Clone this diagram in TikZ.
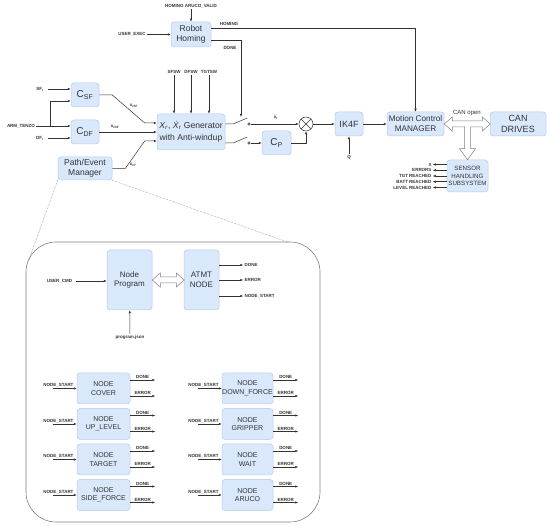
\documentclass[tikz,border=0pt]{standalone}
\usepackage{fontspec}
\setmainfont{Liberation Sans}
\usetikzlibrary{arrows.meta}

\definecolor{boxfill}{HTML}{DAE8FC}
\definecolor{boxline}{HTML}{B4CBEA}
\definecolor{ink}{HTML}{333333}

\begin{document}
\begin{tikzpicture}[x=1pt,y=-1pt,line width=.5pt,
  blk/.style={draw=boxline,fill=boxfill,rounded corners=3pt,text=ink,align=center,inner sep=0pt,font=\fontsize{8.5}{10}\selectfont},
  nd/.style={blk,minimum height=31,font=\fontsize{7}{8.5}\selectfont},
  lbl/.style={text=ink,inner sep=1pt,font=\fontsize{4.5}{5}\selectfont\bfseries},
  sig/.style={draw=ink,-{Latex[length=3pt,width=2.4pt]}},
  hollow/.style={draw=gray,fill=white,line width=.5pt}]
\path[use as bounding box] (0,0) rectangle (550,526);
\node[blk,minimum width=40,minimum height=25] (homing) at (191,34.5) {Robot\\Homing};
\node[lbl] (hav) at (191,6) {HOMING ARUCO\_VALID};
\draw[sig] (hav) -- (homing);
\node[lbl] (uexec) at (132,34.5) {USER\_EXEC};
\draw[sig] (uexec) -- (homing);
\node[blk,minimum width=28,minimum height=24,font=\fontsize{10}{11}\selectfont] (csf) at (85,95) {C\textsubscript{SF}};
\node[blk,minimum width=28,minimum height=24,font=\fontsize{10}{11}\selectfont] (cdf) at (85,132) {C\textsubscript{DF}};
\node[blk,minimum width=54,minimum height=23] (pm) at (85,168.5) {Path/Event\\Manager};
\node[blk,minimum width=68,minimum height=36,font=\fontsize{8.6}{11.5}\selectfont] (gen) at (191,132) {\textit{X}\textsubscript{\textit{r}}, \textit{\.X}\textsubscript{\textit{r}} Generator\\with Anti-windup};
\node[lbl] (sfr) at (40,89) {SF\textsubscript{r}};
\node[lbl] (arm) at (21,126) {ARM\_TENZO};
\node[lbl] (dfr) at (40,138) {DF\textsubscript{r}};
\draw[sig] ([xshift=3pt]sfr.east) -- (sfr -| csf.west);
\draw[sig] (arm.east) -- (arm -| cdf.west);
\coordinate (armsplit) at (50,126);
\draw[sig] (armsplit) |- ([yshift=-6pt]csf.west);
\draw[sig] ([xshift=3pt]dfr.east) -- (dfr -| cdf.west);
\node[lbl] (sfsw) at (174,72) {SFSW};
\node[lbl] (dfsw) at (191,72) {DFSW};
\node[lbl] (tgtsw) at (209,72) {TGTSW};
\draw[sig] (sfsw) -- (sfsw |- gen.north);
\draw[sig] (dfsw) -- (dfsw |- gen.north);
\draw[sig] (tgtsw) -- (tgtsw |- gen.north);
\draw[sig] (csf.east) -- ++(13,0) -- ([xshift=-12pt,yshift=9pt]gen.west) -- ([yshift=9pt]gen.west);
\node[lbl] (lsf) at (134,106) {x\textsubscript{rSF}};
\draw[sig] (cdf) -- (gen);
\node[lbl] (ldf) at (115,127) {x\textsubscript{rDF}};
\draw[sig] (pm.east) -- ++(13,0) -- ([xshift=-12pt,yshift=-9pt]gen.west) -- ([yshift=-9pt]gen.west);
\node[lbl] (lp) at (133,165) {x\textsubscript{rP}};
\node[draw=ink,circle,inner sep=0pt,minimum size=2.5] (sw1) at (249,124) {};
\node[draw=ink,circle,inner sep=0pt,minimum size=2.5] (sw2) at (249,143) {};
\draw[ink] ([yshift=8pt]gen.east) -- ++(8,0) -- ++(14,-6);
\draw[ink] ([yshift=-11pt]gen.east) -- ++(8,0) -- ++(14,-6);
\coordinate (doneend) at (241,117);
\draw[sig] ([yshift=-6pt]homing.east) -| (doneend);
\node[lbl] (ldone) at (230,48) {DONE};
\node[blk,minimum width=29,minimum height=24,font=\fontsize{10}{11}\selectfont] (cp) at (276.5,143) {C\textsubscript{P}};
\node[draw=ink,circle,inner sep=0pt,minimum size=14,fill=white] (sum) at (306,124) {};
\draw[ink] (sum.north east) -- (sum.south west) (sum.north west) -- (sum.south east);
\draw[sig] (sw1) -- (sum);
\node[lbl] (lxr) at (276,117.5) {\.x\textsubscript{r}};
\draw[sig] (sw2) -- (cp);
\draw[sig] (cp.east) -| (sum.south);
\node[blk,minimum width=28,minimum height=24,font=\fontsize{9}{10}\selectfont] (ik4f) at (349,124) {IK4F};
\node[lbl] (q) at (349,157) {Q};
\draw[sig] (q) -- (ik4f);
\draw[sig] (sum) -- (ik4f);
\node[blk,minimum width=57,minimum height=24,font=\fontsize{8.2}{10}\selectfont] (mcm) at (415.5,124) {Motion Control\\MANAGER};
\draw[sig] (ik4f) -- (mcm);
\draw[sig] ([yshift=6pt]homing.east) -| (mcm.north);
\node[lbl] (lhoming) at (229,24) {HOMING};
\node[blk,minimum width=56,minimum height=24,font=\fontsize{9}{10.5}\selectfont] (can) at (518,124) {CAN\\DRIVES};
\node[blk,minimum width=41,minimum height=32,font=\fontsize{6.2}{7.5}\selectfont] (sensor) at (467.5,176) {SENSOR\\HANDLING\\SUBSYSTEM};
\draw[hollow,shift={(mcm.east)}] (0,0) -- (8,-7) -- (8,-3) -- (38,-3) -- (38,-7) -- (46,0) -- (38,7) -- (38,3) -- (8,3) -- (8,7) -- cycle;
\path[fill=white,shift={(sensor.north)}] (-3,-34) -- (-3,-11) -- (-8,-11) -- (0,0) -- (8,-11) -- (3,-11) -- (3,-34) -- cycle;
\draw[draw=gray,shift={(sensor.north)}] (-3,-33) -- (-3,-11) -- (-8,-11) -- (0,0) -- (8,-11) -- (3,-11) -- (3,-33);
\node[text=ink,inner sep=0pt,font=\fontsize{6}{7}\selectfont] (lcan) at (467,113) {CAN open};
\draw[sig] ([yshift=11.5pt]sensor.west) -- ++(-14,0) node[lbl,left]{X};
\draw[sig] ([yshift=5.75pt]sensor.west) -- ++(-14,0) node[lbl,left]{ERRORS};
\draw[sig] (sensor.west) -- ++(-14,0) node[lbl,left]{TGT REACHED};
\draw[sig] ([yshift=-5.75pt]sensor.west) -- ++(-14,0) node[lbl,left]{BATT REACHED};
\draw[sig] ([yshift=-11.5pt]sensor.west) -- ++(-14,0) node[lbl,left]{LEVEL REACHED};
\node[draw=gray,rounded corners=30pt,minimum width=294,minimum height=280,inner sep=0pt,line width=.6pt] (prog) at (173,382) {};
\coordinate (zl) at (28,262);
\coordinate (zr) at (288,242.2);
\draw[gray,densely dotted] (pm.south west) -- (zl);
\draw[gray,densely dotted] (pm.south east) -- (zr);
\node[blk,minimum width=45,minimum height=60,font=\fontsize{8}{9.5}\selectfont] (np) at (129.5,280) {Node\\Program};
\node[blk,minimum width=35,minimum height=60,font=\fontsize{8}{9.5}\selectfont] (atmt) at (201.5,280) {ATMT\\NODE};
\draw[hollow,shift={(np.east)}] (0,0) -- (8,-7) -- (8,-3) -- (24,-3) -- (24,-7) -- (32,0) -- (24,7) -- (24,3) -- (8,3) -- (8,7) -- cycle;
\node[lbl] (ucmd) at (59.5,281) {USER\_CMD};
\draw[sig] ([xshift=3pt]ucmd.east) -- (ucmd -| np.west);
\node[lbl] (pjson) at (130,337) {program.json};
\draw[sig] (pjson) -- (np);
\draw[sig] ([yshift=15pt]atmt.east) -- ++(24,0) node[lbl,right]{DONE};
\draw[sig] (atmt.east) -- ++(24,0) node[lbl,right]{ERROR};
\draw[sig] ([yshift=-16pt]atmt.east) -- ++(24,0) node[lbl,right]{NODE\_START};
\node[nd,minimum width=53] (cover) at (103.5,388.5) {NODE\\COVER};
\node[nd,minimum width=53] (uplevel) at (103.5,424) {NODE\\UP\_LEVEL};
\node[nd,minimum width=53] (target) at (103.5,459.5) {NODE\\TARGET};
\node[nd,minimum width=53] (sideforce) at (103.5,495) {NODE\\SIDE\_FORCE};
\node[nd,minimum width=51] (downforce) at (247.5,388.5) {NODE\\DOWN\_FORCE};
\node[nd,minimum width=51] (gripper) at (247.5,424) {NODE\\GRIPPER};
\node[nd,minimum width=51] (wait) at (247.5,459.5) {NODE\\WAIT};
\node[nd,minimum width=51] (aruco) at (247.5,495) {NODE\\ARUCO};
\draw[sig] ([xshift=-24pt]cover.west) -- (cover.west) node[lbl,above left,xshift=-2pt]{NODE\_START};
\draw[sig] ([yshift=8.5pt]cover.east) -- ++(25,0) node[lbl,above,pos=.5]{DONE};
\draw[sig] ([yshift=-7.5pt]cover.east) -- ++(25,0) node[lbl,above,pos=.5]{ERROR};
\draw[sig] ([xshift=-24pt]uplevel.west) -- (uplevel.west) node[lbl,above left,xshift=-2pt]{NODE\_START};
\draw[sig] ([yshift=8.5pt]uplevel.east) -- ++(25,0) node[lbl,above,pos=.5]{DONE};
\draw[sig] ([yshift=-7.5pt]uplevel.east) -- ++(25,0) node[lbl,above,pos=.5]{ERROR};
\draw[sig] ([xshift=-24pt]target.west) -- (target.west) node[lbl,above left,xshift=-2pt]{NODE\_START};
\draw[sig] ([yshift=8.5pt]target.east) -- ++(25,0) node[lbl,above,pos=.5]{DONE};
\draw[sig] ([yshift=-7.5pt]target.east) -- ++(25,0) node[lbl,above,pos=.5]{ERROR};
\draw[sig] ([xshift=-24pt]sideforce.west) -- (sideforce.west) node[lbl,above left,xshift=-2pt]{NODE\_START};
\draw[sig] ([yshift=8.5pt]sideforce.east) -- ++(25,0) node[lbl,above,pos=.5]{DONE};
\draw[sig] ([yshift=-7.5pt]sideforce.east) -- ++(25,0) node[lbl,above,pos=.5]{ERROR};
\draw[sig] ([xshift=-24pt]downforce.west) -- (downforce.west) node[lbl,above left,xshift=-2pt]{NODE\_START};
\draw[sig] ([yshift=8.5pt]downforce.east) -- ++(25,0) node[lbl,above,pos=.5]{DONE};
\draw[sig] ([yshift=-7.5pt]downforce.east) -- ++(25,0) node[lbl,above,pos=.5]{ERROR};
\draw[sig] ([xshift=-24pt]gripper.west) -- (gripper.west) node[lbl,above left,xshift=-2pt]{NODE\_START};
\draw[sig] ([yshift=8.5pt]gripper.east) -- ++(25,0) node[lbl,above,pos=.5]{DONE};
\draw[sig] ([yshift=-7.5pt]gripper.east) -- ++(25,0) node[lbl,above,pos=.5]{ERROR};
\draw[sig] ([xshift=-24pt]wait.west) -- (wait.west) node[lbl,above left,xshift=-2pt]{NODE\_START};
\draw[sig] ([yshift=8.5pt]wait.east) -- ++(25,0) node[lbl,above,pos=.5]{DONE};
\draw[sig] ([yshift=-7.5pt]wait.east) -- ++(25,0) node[lbl,above,pos=.5]{ERROR};
\draw[sig] ([xshift=-24pt]aruco.west) -- (aruco.west) node[lbl,above left,xshift=-2pt]{NODE\_START};
\draw[sig] ([yshift=8.5pt]aruco.east) -- ++(25,0) node[lbl,above,pos=.5]{DONE};
\draw[sig] ([yshift=-7.5pt]aruco.east) -- ++(25,0) node[lbl,above,pos=.5]{ERROR};
\end{tikzpicture}
\end{document}
